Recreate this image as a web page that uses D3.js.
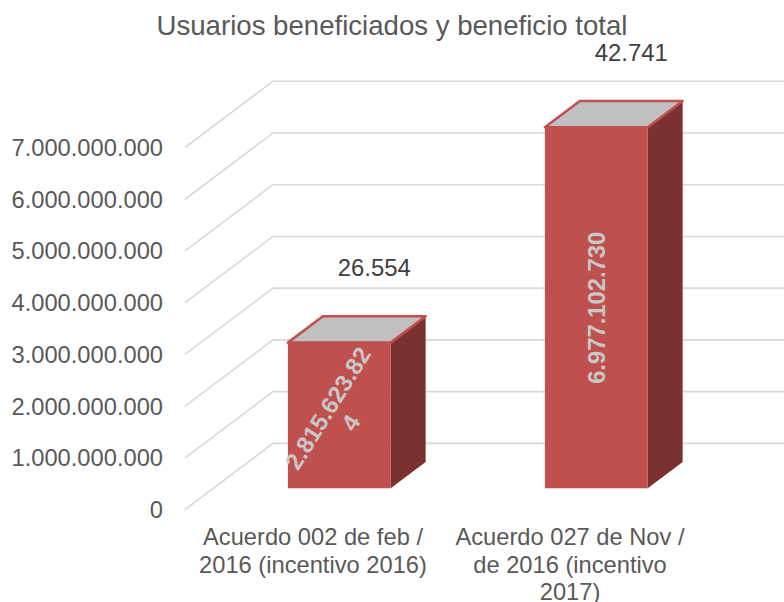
<!DOCTYPE html>
<html>
<head>
<meta charset="utf-8">
<script src="https://cdn.jsdelivr.net/npm/d3@7"></script>
<style>
  html, body { margin: 0; padding: 0; background: #fff; }
  svg { display: block; }
  text { font-family: "Liberation Sans", Arial, sans-serif; }
</style>
</head>
<body>
<svg id="chart" width="784" height="602"></svg>
<script>
// ---- data ----
const title = "Usuarios beneficiados y beneficio total";
const categories = [
  "Acuerdo 002 de feb / 2016 (incentivo 2016)",
  "Acuerdo 027 de Nov / de 2016 (incentivo 2017)"
];
const beneficio = [2815623824, 6977102730];
const usuarios = [26554, 42741];
const yTicks = [0, 1e9, 2e9, 3e9, 4e9, 5e9, 6e9, 7e9];

// ---- setup ----
const W = 784, H = 602;
const svg = d3.select("#chart");
const loc = d3.formatLocale({ decimal: ",", thousands: ".", grouping: [3], currency: ["$", ""] });
const fmt = loc.format(",d");

// oblique 3D projection: depth t in [0,1]
const DX = 88, DY = -66.3;
const front = { x0: 185, x1: 699 };
const y = d3.scaleLinear().domain([0, 7e9]).range([509.7, 147.5]);
const x = d3.scaleBand().domain(categories).range([front.x0, front.x1]).padding(0);
const barT0 = 0.323, barT1 = 0.72;
const barShiftX = 25.8;
const barW = x.bandwidth() * 0.40;

const grid = svg.append("g");
yTicks.forEach(v => {
  const x0 = front.x0, y0 = y(v);
  const x1 = front.x0 + DX, y1 = y(v) + DY;
  grid.append("path")
    .attr("d", `M${x0},${y0}L${x1},${y1}L${W},${y1}`)
    .attr("fill", "none").attr("stroke", "#d9d9d9").attr("stroke-width", 1.6);
});

// y tick labels
svg.append("g").selectAll("text").data(yTicks).join("text")
  .attr("x", 163).attr("y", d => y(d)).attr("dy", "0.35em")
  .attr("text-anchor", "end").attr("font-size", 23.7).attr("fill", "#595959")
  .text(d => fmt(d));

// bars
const bars = svg.append("g");
categories.forEach((c, i) => {
  const v = beneficio[i];
  const sx = barShiftX, sy = DY * barT0;
  const ddx = DX * (barT1 - barT0), ddy = DY * (barT1 - barT0);
  const cx = x(c) + x.bandwidth() / 2 + sx;
  const xl = cx - barW / 2, xr = cx + barW / 2;
  const yt = y(v) + sy, yb = y(0) + sy;
  const g = bars.append("g");
  // side
  g.append("path")
    .attr("d", `M${xr},${yt}L${xr + ddx},${yt + ddy}L${xr + ddx},${yb + ddy}L${xr},${yb}Z`)
    .attr("fill", "#7b3130");
  // front
  g.append("rect").attr("x", xl).attr("y", yt).attr("width", barW).attr("height", yb - yt)
    .attr("fill", "#c0504d");
  // top
  g.append("path")
    .attr("d", `M${xl},${yt}L${xl + ddx},${yt + ddy}L${xr + ddx},${yt + ddy}L${xr},${yt}Z`)
    .attr("fill", "#c0c0c0").attr("stroke", "#c0504d").attr("stroke-width", 2.6)
    .attr("stroke-linejoin", "round");

  // inner value label
  const fs = 23.8;
  const faceH = yb - yt;
  const label = fmt(v);
  const tmp = g.append("text").attr("font-size", fs).attr("font-weight", "bold").text(label);
  const fullLen = tmp.node().getComputedTextLength();
  tmp.remove();
  const vertical = fullLen < faceH;
  const rot = vertical ? -90 : -58;
  // character-level wrapping
  const lines = [];
  if (vertical) lines.push(label);
  else {
    let cur = "";
    const probe = g.append("text").attr("font-size", fs).attr("font-weight", "bold");
    for (const ch of label) {
      probe.text(cur + ch);
      if (probe.node().getComputedTextLength() > faceH && cur.length) { lines.push(cur); cur = ch; }
      else cur += ch;
    }
    if (cur) lines.push(cur);
    probe.remove();
  }
  const lh = 27;
  const t = g.append("text")
    .attr("transform", `translate(${cx},${(yt + yb) / 2}) rotate(${rot})`)
    .attr("text-anchor", "middle").attr("font-size", fs).attr("font-weight", "bold")
    .attr("fill", "#c8c8c8");
  lines.forEach((ln, k) => {
    t.append("tspan").attr("x", 0)
      .attr("y", (k - (lines.length - 1) / 2) * lh)
      .attr("dy", "0.35em").text(ln);
  });

  // users label above bar
  svg.append("text")
    .attr("x", cx + ddx).attr("y", yt + ddy - 40)
    .attr("text-anchor", "middle").attr("font-size", 23.9).attr("fill", "#404040")
    .text(fmt(usuarios[i]));
});

// category labels with wrapping
const catG = svg.append("g");
const maxW = 245;
categories.forEach(c => {
  const words = c.split(" ");
  const t = catG.append("text").attr("text-anchor", "middle").attr("font-size", 23.7).attr("fill", "#595959");
  const probe = catG.append("text").attr("font-size", 23.7);
  const lines = [];
  let cur = "";
  words.forEach(w => {
    const test = cur ? cur + " " + w : w;
    probe.text(test);
    if (probe.node().getComputedTextLength() > maxW && cur) { lines.push(cur); cur = w; }
    else cur = test;
  });
  if (cur) lines.push(cur);
  probe.remove();
  lines.forEach((ln, k) => {
    t.append("tspan").attr("x", x(c) + x.bandwidth() / 2 - 0.5).attr("y", 545 + k * 27.6).text(ln);
  });
});

// title
svg.append("text").attr("x", W / 2).attr("y", 35).attr("text-anchor", "middle")
  .attr("font-size", 27.6).attr("fill", "#595959").text(title);
</script>
</body>
</html>
